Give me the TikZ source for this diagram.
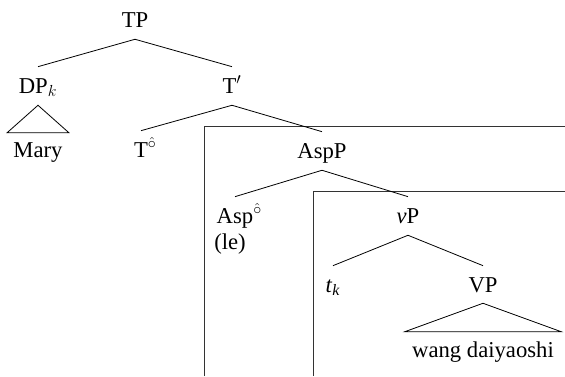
\documentclass[tikz,border=0pt]{standalone}
\usepackage{fontspec}
\setmainfont{Liberation Serif}
\usepackage{tikz}
\usetikzlibrary{positioning}

\newcommand{\headmark}{\rlap{$^{\hat{\circ}}$}}

\begin{document}
\begin{tikzpicture}[
  x = 0.75pt,
  y = -0.75pt,
  label/.style = {
    inner sep = 0pt,
    anchor = base,
    text height = 11.3pt,
    text depth = 0pt,
    font = \fontsize{17}{20}\selectfont
  },
  branch/.style = {
    line width = 0.6pt
  },
  frame/.style = {
    line width = 0.6pt,
    black!80
  },
  ]
  \useasboundingbox (0, 0) rectangle (565, 376);

  % Frames round the lower parts of the tree.
  \coordinate (F1-b) at (204, 376);
  \coordinate (F1-t) at (204, 126);
  \coordinate (F1-r) at (565, 126);
  \draw[frame] (F1-b) -- (F1-t) -- (F1-r);
  \coordinate (F2-b) at (313, 376);
  \coordinate (F2-t) at (313, 191);
  \coordinate (F2-r) at (565, 191);
  \draw[frame] (F2-b) -- (F2-t) -- (F2-r);

  % Labels of the tree.
  \node[label] (TP) at (135, 27) {TP};
  \node[label] (DP) at (38, 93) {DP$_k$};
  \node[label] (Mary) at (38, 157) {Mary};
  \node[label] (Tbar) at (232, 93) {T$'$};
  \node[label] (T0) at (141, 157) {T\headmark};
  \node[label] (AspP) at (322, 158) {AspP};
  \node[label] (Asp0) at (235, 223) {Asp\headmark};
  \node[label] (le) at (230, 249) {(le)};
  \node[label] (vP) at (408, 223) {\textit{v}P};
  \node[label] (tk) at (333, 292) {\textit{t}\textsubscript{\textit{k}}};
  \node[label] (VP) at (483, 292) {VP};
  \node[label] (wd) at (483, 357) {wang daiyaoshi};

  % Branches.
  \foreach \mother/\daughter in {TP/DP, TP/Tbar, Tbar/T0, Tbar/AspP,
                                 AspP/Asp0, AspP/vP, vP/tk, vP/VP} {
    \draw[branch] ([yshift=-9pt]\mother.south) -- ([yshift=8.25pt]\daughter.north);
  }

  % Triangles.
  \draw[branch] ([yshift=-9pt]DP.south) -- ([xshift=-4.5pt, yshift=6.75pt]Mary.north west)
    -- ([xshift=4.5pt, yshift=6.75pt]Mary.north east) -- cycle;
  \draw[branch] ([yshift=-8.25pt]VP.south) -- ([xshift=-5.25pt, yshift=7.5pt]wd.north west)
    -- ([xshift=5.25pt, yshift=7.5pt]wd.north east) -- cycle;
\end{tikzpicture}
\end{document}
